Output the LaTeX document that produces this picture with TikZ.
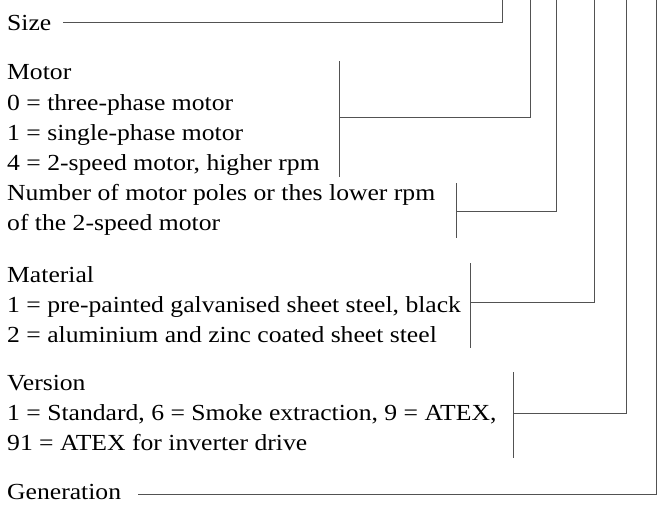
\documentclass[tikz,border=0pt]{standalone}
\usepackage{fontspec}
\setmainfont[FakeStretch=1.115]{Liberation Serif}
\begin{document}
\begin{tikzpicture}[x=1pt,y=-1pt,
  txt/.style={anchor=base west, inner sep=0pt, font=\fontsize{23}{30}\selectfont},
  ln/.style={draw=black!68, line width=1pt}]
\useasboundingbox (0,0) rectangle (662,504);
% texts
\node[txt] (size) at (7,30) {Size};
\node[txt] (mot0) at (7,79) {Motor};
\node[txt] (mot1) at (7,110) {0 = three-phase motor};
\node[txt] (mot2) at (7,140) {1 = single-phase motor};
\node[txt] (mot3) at (7,170) {4 = 2-speed motor, higher rpm};
\node[txt] (pol1) at (7,200) {Number of motor poles or thes lower rpm};
\node[txt] (pol2) at (7,230) {of the 2-speed motor};
\node[txt] (mat0) at (7,282) {Material};
\node[txt] (mat1) at (7,312) {1 = pre-painted galvanised sheet steel, black};
\node[txt] (mat2) at (7,342) {2 = aluminium and zinc coated sheet steel};
\node[txt] (ver0) at (7,390) {Version};
\node[txt] (ver1) at (7,420) {1 = Standard, 6 = Smoke extraction, 9 = ATEX,};
\node[txt] (ver2) at (7,450) {91 = ATEX for inverter drive};
\node[txt] (gen) at (7,499) {Generation};
% coordinates
\coordinate (t1) at (502,0);
\coordinate (t2) at (530,0);
\coordinate (t3) at (556,0);
\coordinate (t4) at (594,0);
\coordinate (t5) at (626,0);
\coordinate (t6) at (656,0);
\coordinate (sizeS) at (63,22.7);
\coordinate (genS) at (138,494);
\coordinate (motA) at (339,61);
\coordinate (motB) at (339,177);
\coordinate (motM) at (339,117);
\coordinate (polA) at (456,183);
\coordinate (polB) at (456,238);
\coordinate (polM) at (456,211);
\coordinate (matA) at (470,263);
\coordinate (matB) at (470,348);
\coordinate (matM) at (470,302);
\coordinate (verA) at (513,372);
\coordinate (verB) at (513,458);
\coordinate (verM) at (513,413);
% connectors
\draw[ln] (sizeS) -| (t1);
\draw[ln] (motA) -- (motB);
\draw[ln] (motM) -| (t2);
\draw[ln] (polA) -- (polB);
\draw[ln] (polM) -| (t3);
\draw[ln] (matA) -- (matB);
\draw[ln] (matM) -| (t4);
\draw[ln] (verA) -- (verB);
\draw[ln] (verM) -| (t5);
\draw[ln] (genS) -| (t6);
\end{tikzpicture}
\end{document}
